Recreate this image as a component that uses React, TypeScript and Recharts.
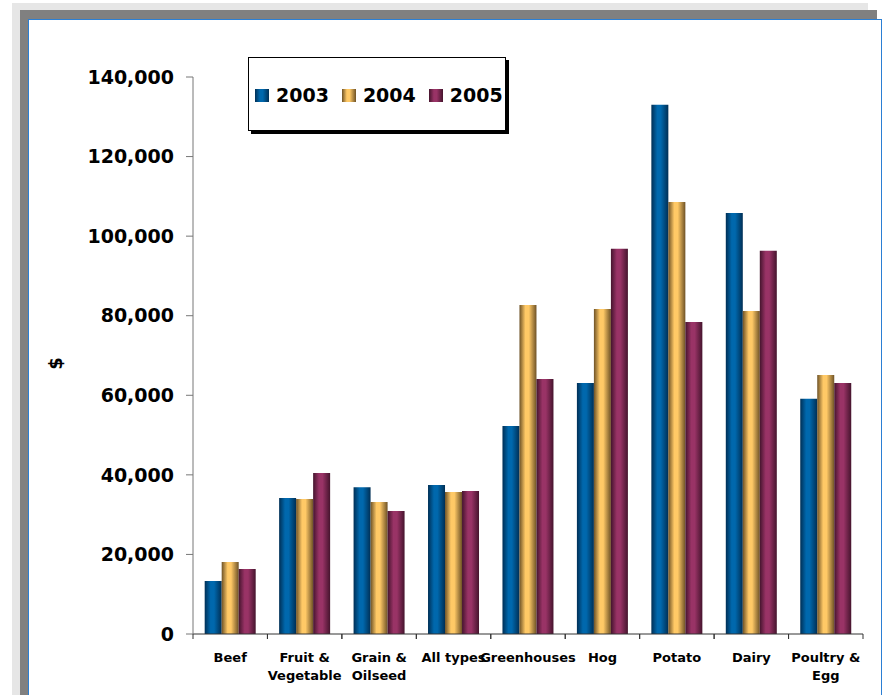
import React from "react";
import { BarChart, Bar, XAxis, YAxis, Legend } from "recharts";

const categories = [
  "Beef",
  "Fruit &\nVegetable",
  "Grain &\nOilseed",
  "All types",
  "Greenhouses",
  "Hog",
  "Potato",
  "Dairy",
  "Poultry &\nEgg",
];
const values2003 = [13300, 34200, 36900, 37450, 52300, 63100, 133000, 105800, 59100];
const values2004 = [18100, 33950, 33200, 35700, 82700, 81700, 108600, 81200, 65100];
const values2005 = [16350, 40450, 30900, 35950, 64100, 96800, 78400, 96300, 63100];
const yTicks = [0, 20000, 40000, 60000, 80000, 100000, 120000, 140000];
const seriesNames = ["2003", "2004", "2005"];
const seriesKeys = ["y2003", "y2004", "y2005"];
const seriesBright = ["#0068ad", "#ffc966", "#993366"];
const seriesDark = ["#002f55", "#6e5226", "#45142d"];

const data = categories.map((c, i) => ({
  name: c,
  y2003: values2003[i],
  y2004: values2004[i],
  y2005: values2005[i],
}));

const FONT = "'DejaVu Sans', Verdana, sans-serif";

const XTick = (props: any) => {
  const { x, y, payload } = props;
  const half = payload && payload.offset ? payload.offset : 37.2;
  const lines = String(payload.value).split("\n");
  return (
    <g>
      <line x1={x - half} x2={x - half} y1={y} y2={y + 5} stroke="#333" />
      <line x1={x + half} x2={x + half} y1={y} y2={y + 5} stroke="#333" />
      <text
        x={x}
        y={y + 28}
        textAnchor="middle"
        fontFamily={FONT}
        fontWeight="bold"
        fontSize={13}
        fill="#000"
      >
        {lines.map((l, i) => (
          <tspan key={i} x={x} dy={i === 0 ? 0 : 18}>
            {l}
          </tspan>
        ))}
      </text>
    </g>
  );
};

const LegendBox = () => (
  <div
    style={{
      width: 250,
      height: 72,
      background: "#fff",
      border: "1px solid #000",
      boxShadow: "3px 3px 0 #000",
      display: "flex",
      alignItems: "center",
      paddingLeft: 6,
      boxSizing: "content-box",
      fontFamily: FONT,
      fontWeight: "bold",
      fontSize: 19,
      color: "#000",
    }}
  >
    {seriesNames.map((n, i) => (
      <div key={n} style={{ display: "flex", alignItems: "center", marginRight: i < 2 ? 13 : 0, marginTop: 2 }}>
        <span
          style={{
            display: "inline-block",
            width: 14,
            height: 13,
            marginRight: 7,
            background: `linear-gradient(to right, ${seriesDark[i]} 0%, ${seriesBright[i]} 35%, ${seriesBright[i]} 55%, ${seriesDark[i]} 100%)`,
          }}
        />
        <span>{n}</span>
      </div>
    ))}
  </div>
);

const YLabel = (props: any) => {
  const vb = props.viewBox || { x: 93, y: 77, width: 100, height: 557 };
  const cx = vb.x - 38;
  const cy = vb.y + vb.height / 2 + 8;
  return (
    <text
      x={cx}
      y={cy}
      transform={`rotate(-90, ${cx}, ${cy})`}
      textAnchor="middle"
      dominantBaseline="central"
      fontFamily={FONT}
      fontWeight="bold"
      fontSize={18}
      fill="#000"
    >
      $
    </text>
  );
};

export default function App() {
  return (
    <div style={{ position: "absolute", left: 0, top: 0, width: 884, height: 695, overflow: "hidden", background: "#fff" }}>
      <div style={{ position: "absolute", left: 12, top: 3, width: 856, height: 800, background: "#e6e6e6" }} />
      <div style={{ position: "absolute", left: 20, top: 10, width: 857, height: 800, background: "#808080" }} />
      <div
        style={{
          position: "absolute",
          left: 28,
          top: 19,
          width: 854,
          height: 800,
          background: "#fff",
          border: "1px solid #2b7fd4",
          boxSizing: "border-box",
        }}
      />
      <div style={{ position: "absolute", left: 0, top: 0 }}>
        <BarChart
          width={884}
          height={695}
          data={data}
          margin={{ top: 77, right: 21, bottom: 11, left: 93 }}
          barCategoryGap="15.7%"
          barGap={0}
        >
          <defs>
            {seriesKeys.map((k, i) => (
              <linearGradient key={k} id={`grad-${k}`} x1="0" y1="0" x2="1" y2="0">
                <stop offset="0%" stopColor={seriesDark[i]} />
                <stop offset="35%" stopColor={seriesBright[i]} />
                <stop offset="55%" stopColor={seriesBright[i]} />
                <stop offset="100%" stopColor={seriesDark[i]} />
              </linearGradient>
            ))}
          </defs>
          <XAxis
            dataKey="name"
            interval={0}
            height={50}
            tickSize={0}
            tickMargin={0}
            tickLine={false}
            axisLine={{ stroke: "#333" }}
            tick={<XTick />}
          />
          <YAxis
            width={100}
            domain={[0, 140000]}
            ticks={yTicks}
            interval={0}
            tickSize={7}
            tickMargin={12}
            axisLine={{ stroke: "#777" }}
            tickLine={{ stroke: "#777" }}
            tickFormatter={(v: number) => v.toLocaleString("en-US")}
            tick={{ fontFamily: FONT, fontWeight: "bold", fontSize: 19, fill: "#000" }}
            label={<YLabel />}
          />
          <Legend
            layout="horizontal"
            verticalAlign="middle"
            align="center"
            content={<LegendBox />}
            wrapperStyle={{ position: "absolute", left: 248, top: 57, width: 260, height: 76 }}
          />
          {seriesKeys.map((k, i) => (
            <Bar key={k} dataKey={k} name={seriesNames[i]} fill={`url(#grad-${k})`} isAnimationActive={false} />
          ))}
        </BarChart>
      </div>
    </div>
  );
}
